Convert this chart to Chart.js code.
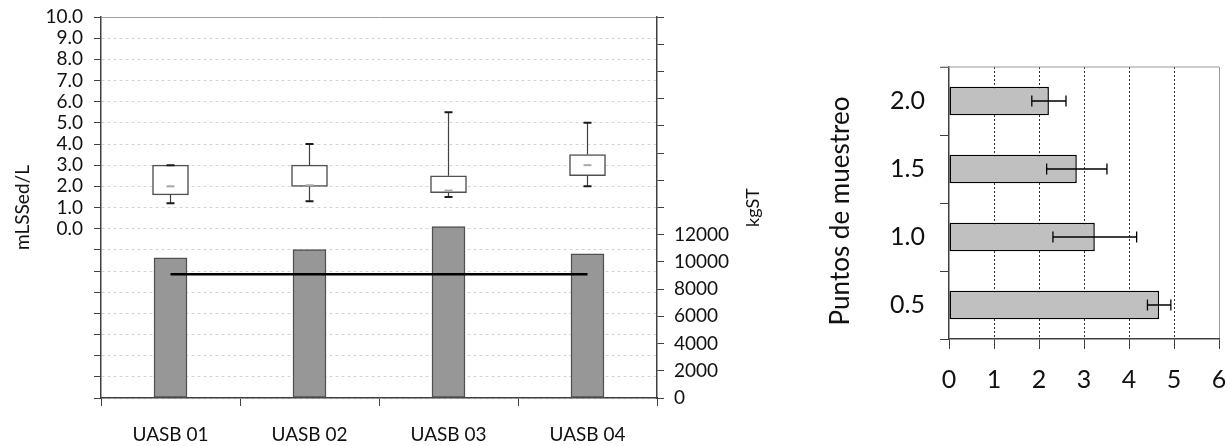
<!DOCTYPE html>
<html>
<head>
<meta charset="utf-8">
<script src="https://cdn.jsdelivr.net/npm/chart.js@4.4.0/dist/chart.umd.min.js"></script>
<style>
  html, body { margin: 0; padding: 0; background: #fff; }
  #wrap { position: relative; width: 1231px; height: 446px; }
  #left { position: absolute; left: 0; top: 0; }
  #right { position: absolute; left: 800px; top: 0; }
</style>
</head>
<body>
<div id="wrap">
  <canvas id="left" width="780" height="446"></canvas>
  <canvas id="right" width="431" height="446"></canvas>
</div>
<script>
// left chart: sludge profile per reactor (mLSSed/L box plot) and sludge mass (kgST)
const reactors = ['UASB 01', 'UASB 02', 'UASB 03', 'UASB 04'];
const boxMin = [1.2, 1.3, 1.5, 2.0];
const boxQ1 = [1.6, 2.0, 1.7, 2.5];
const boxMedian = [2.0, 2.05, 1.8, 3.0];
const boxQ3 = [3.0, 3.0, 2.5, 3.5];
const boxMax = [3.0, 4.0, 5.5, 5.0];
const sludgeMass = [10300, 10900, 12600, 10600];
const sludgeMean = [9100, 9100, 9100, 9100];

// right chart: sampling points
const samplingPoints = ['2.0', '1.5', '1.0', '0.5'];
const pointMean = [2.22, 2.84, 3.24, 4.67];
const pointError = [0.38, 0.67, 0.93, 0.26];

Chart.defaults.font.family = 'Lato';
Chart.defaults.color = '#111';

const darkLine = '#404040';

// whiskers + median marks for the box plots
const whiskers = {
  id: 'whiskers',
  afterDatasetsDraw(chart) {
    const { ctx } = chart;
    const x = chart.scales.x, y = chart.scales.y;
    ctx.save();
    reactors.forEach((r, i) => {
      const cx = x.getPixelForValue(i);
      ctx.strokeStyle = darkLine;
      ctx.lineWidth = 1.2;
      ctx.beginPath();
      ctx.moveTo(cx, y.getPixelForValue(boxQ3[i]));
      ctx.lineTo(cx, y.getPixelForValue(boxMax[i]));
      ctx.moveTo(cx, y.getPixelForValue(boxQ1[i]));
      ctx.lineTo(cx, y.getPixelForValue(boxMin[i]));
      ctx.stroke();

      ctx.strokeStyle = '#1a1a1a';
      ctx.lineWidth = 2;
      ctx.beginPath();
      [boxMax[i], boxMin[i]].forEach(v => {
        const py = y.getPixelForValue(v);
        ctx.moveTo(cx - 4, py);
        ctx.lineTo(cx + 4, py);
      });
      ctx.stroke();

      ctx.strokeStyle = '#a8a8a8';
      ctx.beginPath();
      const my = y.getPixelForValue(boxMedian[i]);
      ctx.moveTo(cx - 4, my);
      ctx.lineTo(cx + 4, my);
      ctx.stroke();
    });
    ctx.restore();
  }
};

// rotated axis title, reading bottom-to-top
function sideTitle(id, scaleId, text, size, dx, dy) {
  return {
    id,
    afterDraw(chart) {
      const s = chart.scales[scaleId];
      const { ctx } = chart;
      ctx.save();
      ctx.translate(dx < 0 ? s.right + dx : s.left + dx, (s.top + s.bottom) / 2 + dy);
      ctx.rotate(-Math.PI / 2);
      ctx.font = size + 'px Lato';
      ctx.fillStyle = '#111';
      ctx.textAlign = 'center';
      ctx.textBaseline = 'middle';
      ctx.fillText(text, 0, 0);
      ctx.restore();
    }
  };
}

const noVPad = s => { s.paddingTop = 0; s.paddingBottom = 0; };

new Chart(document.getElementById('left'), {
  type: 'bar',
  data: {
    labels: reactors,
    datasets: [
      {
        type: 'line',
        data: sludgeMean,
        yAxisID: 'y2',
        borderColor: '#000',
        borderWidth: 2.5,
        pointRadius: 0,
        order: 0
      },
      {
        data: sludgeMass,
        yAxisID: 'y2',
        backgroundColor: '#979797',
        borderColor: '#505050',
        borderWidth: 1.5,
        borderSkipped: false,
        barThickness: 33,
        grouped: false,
        order: 1
      },
      {
        data: boxQ1.map((q, i) => [q, boxQ3[i]]),
        yAxisID: 'y',
        backgroundColor: '#fff',
        borderColor: '#505050',
        borderWidth: 1.5,
        borderSkipped: false,
        barThickness: 36,
        grouped: false,
        order: 2
      }
    ]
  },
  options: {
    responsive: false,
    animation: false,
    layout: { padding: { top: 17, left: 0, right: 0, bottom: 0 } },
    plugins: { legend: { display: false }, tooltip: { enabled: false } },
    scales: {
      x: {
        offset: true,
        afterFit: s => { s.height = 48; s.paddingLeft = 0; s.paddingRight = 0; },
        grid: { offset: true, drawOnChartArea: false, tickLength: 8, tickColor: darkLine },
        border: { color: darkLine, width: 1.5 },
        ticks: { font: { size: 19 }, padding: 17, maxRotation: 0 }
      },
      y: {
        position: 'left',
        min: -8,
        max: 10,
        afterFit: s => { s.width = 101; noVPad(s); },
        ticks: {
          stepSize: 1,
          autoSkip: false,
          font: { size: 19 },
          padding: 11,
          callback: v => (v >= 0 ? v.toFixed(1) : '')
        },
        grid: {
          color: c => (c.tick && c.tick.value === 10 ? '#a0a0a0' : '#d4d4d4'),
          tickLength: 7,
          tickColor: darkLine,
          tickBorderDash: []
        },
        border: {
          color: darkLine,
          width: 1.5,
          dash: c => (c.tick && c.tick.value === 10 ? [] : [3, 3])
        },
        title: { display: true, text: 'mLSSed/L', font: { size: 19 }, padding: { top: 11, bottom: 0 } }
      },
      y2: {
        position: 'right',
        min: 0,
        max: 28000,
        afterFit: s => { s.width = 123; noVPad(s); },
        ticks: {
          stepSize: 2000,
          autoSkip: false,
          font: { size: 19 },
          padding: 10,
          callback: v => (v <= 12000 ? String(v) : '')
        },
        grid: { drawOnChartArea: false, tickLength: 7, tickColor: darkLine },
        border: { color: darkLine, width: 1.5 }
      }
    }
  },
  plugins: [whiskers, sideTitle('kgTitle', 'y2', 'kgST', 18, -27, 0)]
});

// error bars on the horizontal bars
const errorBars = {
  id: 'errorBars',
  afterDatasetsDraw(chart) {
    const { ctx } = chart;
    const x = chart.scales.x, y = chart.scales.y;
    ctx.save();
    ctx.strokeStyle = '#000';
    ctx.lineWidth = 1.3;
    samplingPoints.forEach((p, i) => {
      const cy = y.getPixelForValue(i);
      const x0 = x.getPixelForValue(pointMean[i] - pointError[i]);
      const x1 = x.getPixelForValue(pointMean[i] + pointError[i]);
      ctx.beginPath();
      ctx.moveTo(x0, cy); ctx.lineTo(x1, cy);
      ctx.moveTo(x0, cy - 5.5); ctx.lineTo(x0, cy + 5.5);
      ctx.moveTo(x1, cy - 5.5); ctx.lineTo(x1, cy + 5.5);
      ctx.stroke();
    });
    ctx.restore();
  }
};

// grey frame on top of the plot
const topFrame = {
  id: 'topFrame',
  beforeDatasetsDraw(chart) {
    const { ctx, chartArea: a } = chart;
    ctx.save();
    ctx.strokeStyle = '#9a9a9a';
    ctx.lineWidth = 1.2;
    ctx.beginPath();
    ctx.moveTo(a.left - 9, a.top);
    ctx.lineTo(a.right, a.top);
    ctx.stroke();
    ctx.restore();
  }
};

new Chart(document.getElementById('right'), {
  type: 'bar',
  data: {
    labels: samplingPoints,
    datasets: [{
      data: pointMean,
      backgroundColor: '#c0c0c0',
      borderColor: '#000',
      borderWidth: 1.5,
      borderSkipped: false,
      categoryPercentage: 0.42,
      barPercentage: 1
    }]
  },
  options: {
    indexAxis: 'y',
    responsive: false,
    animation: false,
    layout: { padding: { top: 67, right: 12, left: 0, bottom: 0 } },
    plugins: { legend: { display: false }, tooltip: { enabled: false } },
    scales: {
      x: {
        min: 0,
        max: 6,
        afterFit: s => { s.height = 107; s.paddingLeft = 0; s.paddingRight = 0; },
        ticks: { stepSize: 1, font: { size: 25 }, padding: 16 },
        grid: {
          color: c => {
            if (!c.tick) return 'transparent';
            if (c.tick.value === 0) return 'transparent';
            if (c.tick.value === 6) return '#9a9a9a';
            return '#303030';
          },
          tickLength: 10,
          tickColor: darkLine,
          tickBorderDash: []
        },
        border: {
          color: darkLine,
          width: 1.5,
          dash: c => (c.tick && c.tick.value === 6 ? [] : [2, 2])
        }
      },
      y: {
        afterFit: s => { s.width = 149; noVPad(s); },
        ticks: { font: { size: 25 }, padding: 15 },
        grid: { offset: true, drawOnChartArea: false, tickLength: 9, tickColor: darkLine },
        border: { color: darkLine, width: 1.5 }
      }
    }
  },
  plugins: [errorBars, topFrame, sideTitle('pointsTitle', 'y', 'Puntos de muestreo', 26, 41, 8)]
});
</script>
</body>
</html>
